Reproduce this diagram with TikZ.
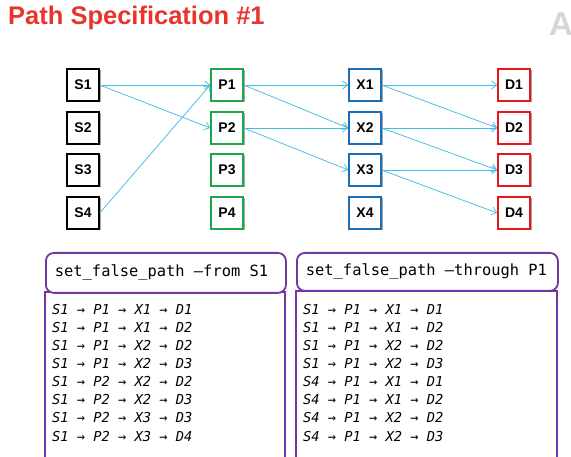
\documentclass[tikz,border=0pt]{standalone}
\usepackage{fontspec}
\setmainfont{Liberation Sans}
\newfontfamily\codefont{DejaVu Sans Mono}
\usetikzlibrary{arrows.meta,shadows}

\definecolor{titlered}{HTML}{E8342B}
\definecolor{pgreen}{HTML}{1EA64E}
\definecolor{xblue}{HTML}{1C6EB4}
\definecolor{dred}{HTML}{E8161E}
\definecolor{wirecyan}{HTML}{45BBE6}
\definecolor{boxpurple}{HTML}{7535A3}
\newcommand{\monogap}{\hspace{0.602em}}

\begin{document}
\begin{tikzpicture}[x=1pt, y=-1pt,
	cell/.style={draw, line width=1.5pt, fill=white, minimum width=32pt, minimum height=32pt,
		inner sep=0pt, font=\bfseries\fontsize{14}{14}\selectfont,
		drop shadow={shadow xshift=1.5pt, shadow yshift=-1.5pt, opacity=0.35, fill=black}},
	wire/.style={wirecyan, line width=0.75pt, -{Straight Barb[length=5pt, width=8pt]}},
	cmdbox/.style={draw=boxpurple, line width=1.8pt, rounded corners=8pt, fill=white,
		anchor=north west, inner xsep=9pt, inner ysep=0pt, align=left,
		font=\codefont\fontsize{15.4}{18}\selectfont},
	listing/.style={anchor=north west, inner sep=0pt, align=left,
		font=\codefont\itshape\fontsize{13.7}{18.1}\selectfont}]
	\useasboundingbox (0,0) rectangle (571,457);
	\clip (0,0) rectangle (571,457);
	
	% title and faded letter at the edge
	\node[anchor=base west, inner sep=0pt, text=titlered, font=\bfseries\fontsize{25.5}{30}\selectfont]
		(title) at (8,25) {Path Specification \#1};
	\node[anchor=base west, inner sep=0pt, text=black!16, font=\bfseries\fontsize{33}{33}\selectfont]
		(mark) at (549,36) {A};
	
	% the four columns of cells
	\foreach \i/\yy in {1/85, 2/128, 3/170, 4/213} {
		\node[cell] (S\i) at (83,\yy) {S\i};
		\node[cell, draw=pgreen] (P\i) at (227,\yy) {P\i};
		\node[cell, draw=xblue] (X\i) at (365,\yy) {X\i};
		\node[cell, draw=dred] (D\i) at (514,\yy) {D\i};
	}
	
	% timing arcs
	\foreach \a/\b in {S1/P1, S1/P2, S4/P1, P1/X1, P1/X2, P2/X2, P2/X3,
		X1/D1, X1/D2, X2/D2, X2/D3, X3/D3, X3/D4}
		\draw[wire] (\a.east) -- (\b.west);
	
	% path lists
	\draw[boxpurple, line width=1.8pt] (45,292) rectangle (285,480);
	\draw[boxpurple, line width=1.8pt] (296,291) rectangle (557,480);
	
	\node[cmdbox, minimum height=40pt, text width=222pt] (fromcmd) at (45,252)
		{set\_false\_path\monogap–from\monogap S1};
	\node[cmdbox, minimum height=38pt, text width=243pt] (thrucmd) at (296,252)
		{set\_false\_path\monogap–through\monogap P1};
	
	\node[listing] (fromlist) at (52,304) {%
		S1 → P1 → X1 → D1\\ S1 → P1 → X1 → D2\\ S1 → P1 → X2 → D2\\ S1 → P1 → X2 → D3\\
		S1 → P2 → X2 → D2\\ S1 → P2 → X2 → D3\\ S1 → P2 → X3 → D3\\ S1 → P2 → X3 → D4};
	\node[listing] (thrulist) at (303,304) {%
		S1 → P1 → X1 → D1\\ S1 → P1 → X1 → D2\\ S1 → P1 → X2 → D2\\ S1 → P1 → X2 → D3\\
		S4 → P1 → X1 → D1\\ S4 → P1 → X1 → D2\\ S4 → P1 → X2 → D2\\ S4 → P1 → X2 → D3};
\end{tikzpicture}
\end{document}
